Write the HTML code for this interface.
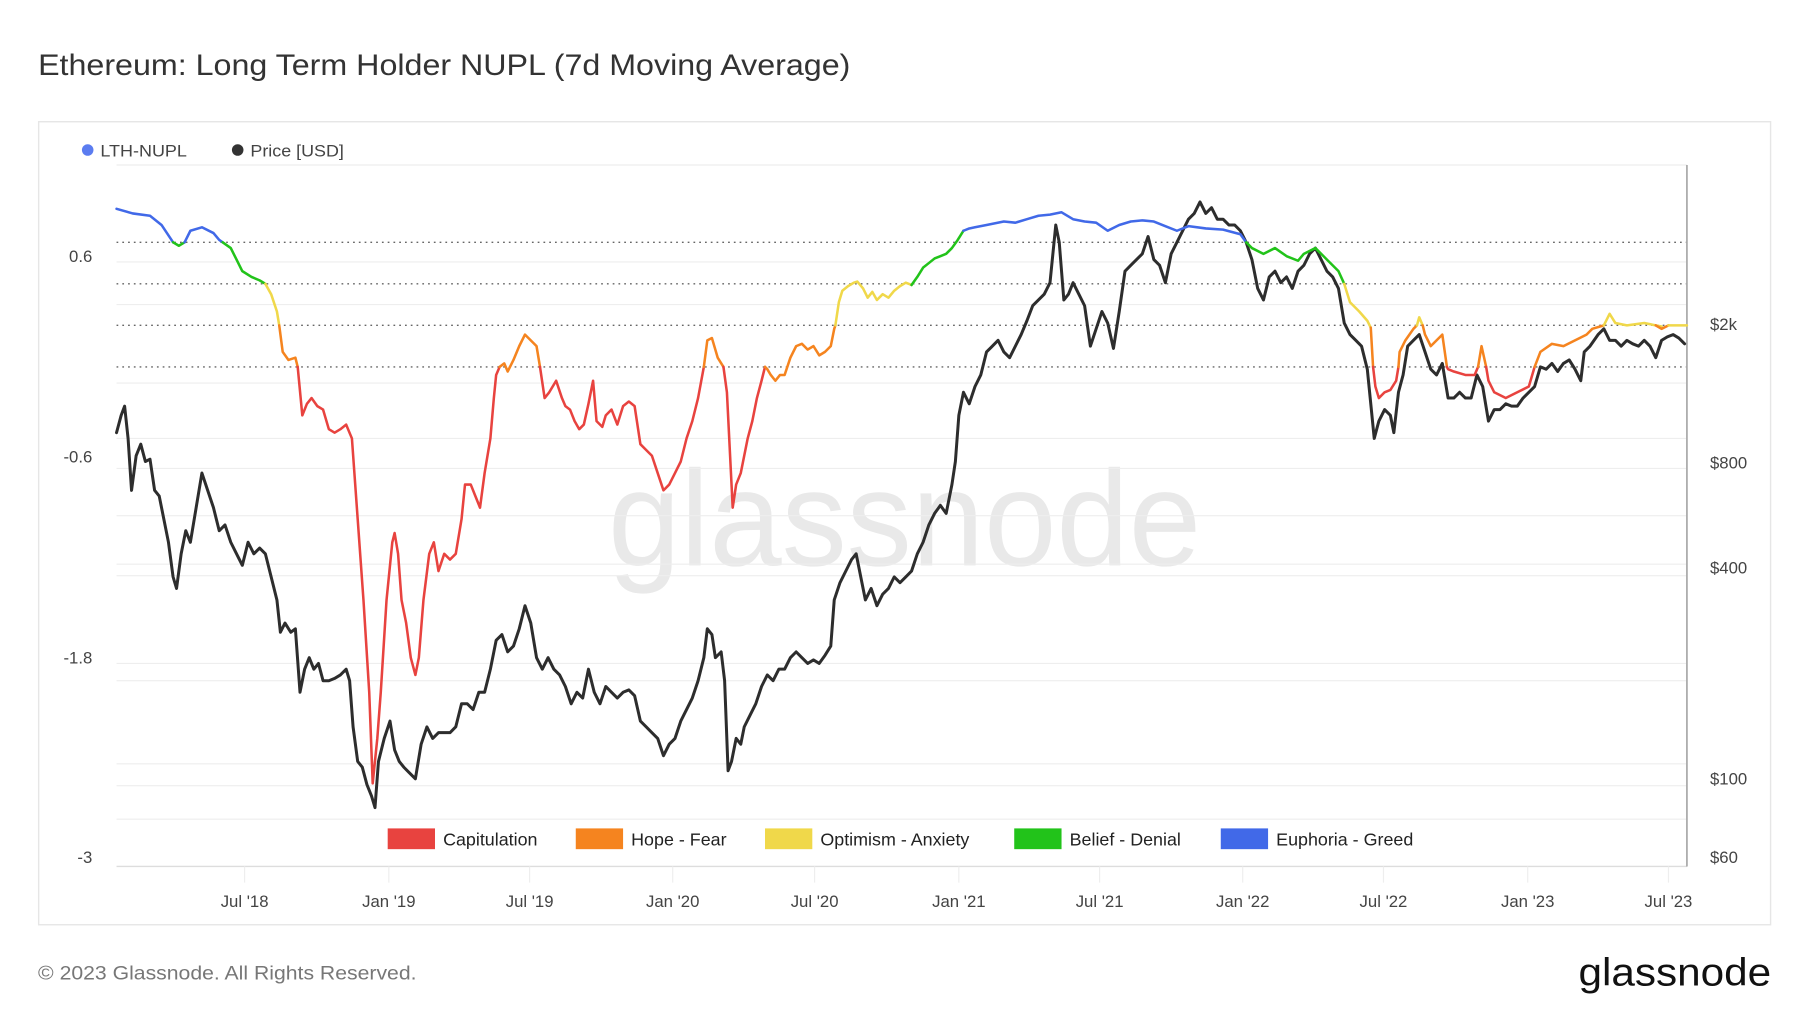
<!DOCTYPE html>
<html><head><meta charset="utf-8"><style>
html,body{margin:0;padding:0;background:#fff;width:1800px;height:1013px;overflow:hidden}
svg{display:block}
text{font-family:"Liberation Sans",sans-serif}
</style></head><body>
<svg width="1800" height="1013" viewBox="0 0 1560 878" preserveAspectRatio="none">
<rect width="1560" height="878" fill="#fff"/>
<text x="33" y="65" font-size="25.5" fill="#333" textLength="704" lengthAdjust="spacingAndGlyphs">Ethereum: Long Term Holder NUPL (7d Moving Average)</text>
<rect x="33.5" y="105.5" width="1501" height="696" fill="none" stroke="#e6e6e6" stroke-width="1.2"/>
<circle cx="76" cy="130" r="5" fill="#5b7cf0"/>
<text x="87" y="135.5" font-size="14.5" fill="#444" textLength="75" lengthAdjust="spacingAndGlyphs">LTH-NUPL</text>
<circle cx="206" cy="130" r="5" fill="#333"/>
<text x="217" y="135.5" font-size="14.5" fill="#444" textLength="81" lengthAdjust="spacingAndGlyphs">Price [USD]</text>
<text x="527" y="490" font-size="118" fill="#e9e9e9" textLength="514" lengthAdjust="spacingAndGlyphs">glassnode</text>
<g stroke="#eeeeee" stroke-width="1">
<line x1="101" y1="143" x2="1462" y2="143"/>
<line x1="101" y1="227" x2="1462" y2="227"/>
<line x1="101" y1="264" x2="1462" y2="264"/>
<line x1="101" y1="332" x2="1462" y2="332"/>
<line x1="101" y1="380" x2="1462" y2="380"/>
<line x1="101" y1="406" x2="1462" y2="406"/>
<line x1="101" y1="447" x2="1462" y2="447"/>
<line x1="101" y1="489" x2="1462" y2="489"/>
<line x1="101" y1="499" x2="1462" y2="499"/>
<line x1="101" y1="575" x2="1462" y2="575"/>
<line x1="101" y1="590" x2="1462" y2="590"/>
<line x1="101" y1="662" x2="1462" y2="662"/>
<line x1="101" y1="681" x2="1462" y2="681"/>
<line x1="101" y1="710" x2="1462" y2="710"/>
</g>
<g stroke="#666" stroke-width="1.2" stroke-dasharray="1.5 3.5">
<line x1="101" y1="210" x2="1462" y2="210"/>
<line x1="101" y1="246" x2="1462" y2="246"/>
<line x1="101" y1="282" x2="1462" y2="282"/>
<line x1="101" y1="318" x2="1462" y2="318"/>
</g>
<line x1="101" y1="751" x2="1462" y2="751" stroke="#ddd" stroke-width="1.2"/>
<line x1="1462" y1="143" x2="1462" y2="751" stroke="#aaa" stroke-width="1.5"/>
<g stroke="#eee" stroke-width="1">
<line x1="212" y1="751" x2="212" y2="765"/><line x1="337" y1="751" x2="337" y2="765"/><line x1="459" y1="751" x2="459" y2="765"/><line x1="583" y1="751" x2="583" y2="765"/><line x1="706" y1="751" x2="706" y2="765"/><line x1="831" y1="751" x2="831" y2="765"/><line x1="953" y1="751" x2="953" y2="765"/><line x1="1077" y1="751" x2="1077" y2="765"/><line x1="1199" y1="751" x2="1199" y2="765"/><line x1="1324" y1="751" x2="1324" y2="765"/><line x1="1446" y1="751" x2="1446" y2="765"/>
</g>
<g font-size="14.5" fill="#444">
<text x="80" y="227" text-anchor="end">0.6</text>
<text x="80" y="401" text-anchor="end">-0.6</text>
<text x="80" y="575" text-anchor="end">-1.8</text>
<text x="80" y="748" text-anchor="end">-3</text>
<text x="1482" y="286">$2k</text>
<text x="1482" y="406">$800</text>
<text x="1482" y="497">$400</text>
<text x="1482" y="680">$100</text>
<text x="1482" y="748">$60</text>
</g>
<g font-size="14.5" fill="#444" text-anchor="middle">
<text x="212" y="786">Jul '18</text><text x="337" y="786">Jan '19</text><text x="459" y="786">Jul '19</text><text x="583" y="786">Jan '20</text><text x="706" y="786">Jul '20</text><text x="831" y="786">Jan '21</text><text x="953" y="786">Jul '21</text><text x="1077" y="786">Jan '22</text><text x="1199" y="786">Jul '22</text><text x="1324" y="786">Jan '23</text><text x="1446" y="786">Jul '23</text>
</g>
<g fill="none" stroke-linejoin="round" stroke-linecap="round">
<polyline stroke="#2d2d2d" stroke-width="2.6" points="101,375 105,360 108,352 111,380 114,425 118,395 122,385 126,400 130,398 134,425 138,430 142,450 146,470 150,500 153,510 157,480 161,460 165,470 170,440 175,410 180,425 185,440 190,460 195,455 200,470 205,480 210,490 215,470 220,480 225,475 230,480 235,500 240,520 243,548 247,540 252,548 256,545 260,600 264,580 268,570 272,580 276,575 280,590 285,590 290,588 295,585 300,580 303,590 306,630 310,660 314,665 318,680 322,690 325,700 328,660 333,640 338,625 342,650 346,660 350,665 355,670 360,675 365,645 370,630 375,640 380,635 390,635 395,630 400,610 405,610 410,615 415,600 420,600 425,580 430,555 435,550 440,565 445,560 450,545 455,525 460,540 465,570 470,580 475,570 480,580 485,585 490,595 495,610 500,600 505,605 510,580 515,600 520,610 525,595 530,600 535,605 540,600 545,598 550,603 555,625 560,630 565,635 570,640 575,655 580,645 585,640 590,625 595,615 600,605 605,590 610,570 613,545 617,550 620,570 625,565 628,590 631,668 634,660 638,640 642,645 645,630 650,620 655,610 660,595 665,585 670,590 675,580 680,580 685,570 690,565 695,570 700,575 705,572 710,575 715,568 720,560 723,520 728,505 733,495 738,485 742,480 747,505 750,520 755,510 760,525 765,515 770,510 775,500 780,505 785,500 790,495 795,480 800,470 805,455 810,445 815,438 820,445 825,420 828,400 831,360 835,340 840,350 845,335 850,325 855,305 860,300 865,295 870,305 875,310 880,300 885,290 890,278 895,265 900,260 905,255 910,245 915,195 918,210 922,260 926,255 930,245 935,255 940,265 945,300 950,285 955,270 960,280 965,302 970,270 975,235 980,230 985,225 990,220 995,205 1000,225 1005,230 1010,245 1015,220 1020,210 1025,200 1030,190 1035,185 1040,175 1045,185 1050,180 1055,190 1060,190 1065,195 1070,195 1075,200 1080,210 1085,225 1090,250 1095,260 1100,240 1105,235 1110,245 1115,240 1120,250 1125,235 1130,230 1135,220 1140,215 1145,225 1150,235 1155,240 1160,250 1165,280 1170,290 1175,295 1180,300 1185,320 1188,350 1191,380 1195,365 1200,355 1205,360 1208,375 1212,340 1216,325 1220,300 1225,295 1230,290 1235,305 1240,320 1245,325 1250,315 1255,345 1260,345 1265,340 1270,345 1275,345 1280,325 1285,335 1290,365 1295,355 1300,355 1305,350 1310,352 1315,352 1320,345 1325,340 1330,335 1335,318 1340,320 1345,315 1350,322 1355,315 1360,312 1365,320 1370,330 1373,305 1378,300 1385,290 1390,285 1395,295 1400,295 1405,300 1410,295 1415,298 1420,300 1425,295 1430,300 1435,310 1440,295 1445,292 1450,290 1455,293 1460,298"/>
<g stroke-width="2.2">
<polyline stroke="#4169e8" points="101,181 115,185 130,187 140,195 150,210"/>
<polyline stroke="#22c31a" points="150,210 155,213 160,210"/>
<polyline stroke="#4169e8" points="160,210 165,200 175,197 185,202 190,208 193,210"/>
<polyline stroke="#22c31a" points="193,210 200,215 205,225 210,235 218,240 225,243 230,246"/>
<polyline stroke="#f0d84a" points="230,246 235,255 240,270 242,282"/>
<polyline stroke="#f5841f" points="242,282 245,305 250,312 256,310 258,318"/>
<polyline stroke="#e8433f" points="258,318 262,360 266,350 270,345 275,352 280,355 285,372 290,375 295,372 300,368 305,380 310,450 315,520 320,600 323,679 327,640 330,600 335,520 340,470 342,462 345,480 348,520 352,540 356,570 360,585 363,570 367,520 372,480 376,470 380,495 385,480 390,485 395,480 400,450 403,420 408,420 412,430 416,440 420,410 425,380 428,345 430,325 433,318"/>
<polyline stroke="#f5841f" points="433,318 437,315 440,322 445,312 450,300 455,290 460,295 465,300 468,318"/>
<polyline stroke="#e8433f" points="468,318 472,345 476,340 482,330 487,345 490,352 494,355 498,365 502,372 506,368 510,350 514,330 517,365 522,370 525,360 530,355 535,368 540,352 545,348 550,352 555,385 560,390 565,395 570,410 575,425 580,420 585,410 590,400 595,380 600,365 605,345 610,318"/>
<polyline stroke="#f5841f" points="610,318 613,295 617,293 622,310 627,318"/>
<polyline stroke="#e8433f" points="627,318 630,340 633,400 635,440 638,420 642,410 648,380 652,365 656,345 660,330 663,318"/>
<polyline stroke="#f5841f" points="663,318 665,320 668,325 672,330 676,325 680,325 685,310 690,300 695,298 700,303 705,300 710,308 715,305 720,300 723,285 724,282"/>
<polyline stroke="#f0d84a" points="724,282 727,262 730,252 735,248 740,245 743,244 748,250 752,258 756,253 760,260 765,255 770,258 775,252 780,248 785,245 790,247"/>
<polyline stroke="#22c31a" points="790,247 795,240 800,232 805,228 810,224 815,222 820,220 825,215 830,208 835,200"/>
<polyline stroke="#4169e8" points="835,200 840,198 845,197 855,195 870,192 880,193 890,190 900,187 910,186 920,184 930,190 940,192 950,193 960,200 970,195 980,192 990,191 1000,192 1010,196 1020,200 1030,196 1045,198 1060,199 1075,203 1080,210"/>
<polyline stroke="#22c31a" points="1080,210 1085,215 1095,220 1105,215 1115,222 1125,226 1130,220 1140,215 1150,225 1160,235 1165,246"/>
<polyline stroke="#f0d84a" points="1165,246 1170,262 1178,270 1185,278 1188,284"/>
<polyline stroke="#f5841f" points="1188,284 1190,318"/>
<polyline stroke="#e8433f" points="1190,318 1192,335 1195,345 1200,340 1205,338 1210,330 1212,318"/>
<polyline stroke="#f5841f" points="1212,318 1213,305 1218,295 1225,285 1228,282"/>
<polyline stroke="#f0d84a" points="1228,282 1230,275 1233,282"/>
<polyline stroke="#f5841f" points="1233,282 1235,290 1240,300 1245,295 1250,290 1254,318"/>
<polyline stroke="#e8433f" points="1254,318 1255,320 1260,322 1270,325 1278,325 1281,318"/>
<polyline stroke="#f5841f" points="1281,318 1284,300 1288,318"/>
<polyline stroke="#e8433f" points="1288,318 1290,330 1295,340 1305,345 1315,340 1325,335 1330,318"/>
<polyline stroke="#f5841f" points="1330,318 1335,305 1345,298 1355,300 1365,295 1375,290 1380,285 1390,282"/>
<polyline stroke="#f0d84a" points="1390,282 1395,272 1400,280 1410,282 1425,280 1440,283"/>
<polyline stroke="#f5841f" points="1435,282 1440,285 1446,282"/>
<polyline stroke="#f0d84a" points="1446,282 1450,282 1462,282"/>
</g>
</g>
<g font-size="15.5" fill="#222">
<rect x="336" y="718" width="41" height="18" fill="#e8433f"/><text x="384" y="733">Capitulation</text>
<rect x="499" y="718" width="41" height="18" fill="#f5841f"/><text x="547" y="733">Hope - Fear</text>
<rect x="663" y="718" width="41" height="18" fill="#f0d84a"/><text x="711" y="733">Optimism - Anxiety</text>
<rect x="879" y="718" width="41" height="18" fill="#22c31a"/><text x="927" y="733">Belief - Denial</text>
<rect x="1058" y="718" width="41" height="18" fill="#4169e8"/><text x="1106" y="733">Euphoria - Greed</text>
</g>
<text x="33" y="849" font-size="16.5" fill="#777" textLength="328" lengthAdjust="spacingAndGlyphs">© 2023 Glassnode. All Rights Reserved.</text>
<text x="1368" y="854" font-size="34" fill="#111" textLength="167" lengthAdjust="spacingAndGlyphs">glassnode</text>
</svg>
</body></html>
